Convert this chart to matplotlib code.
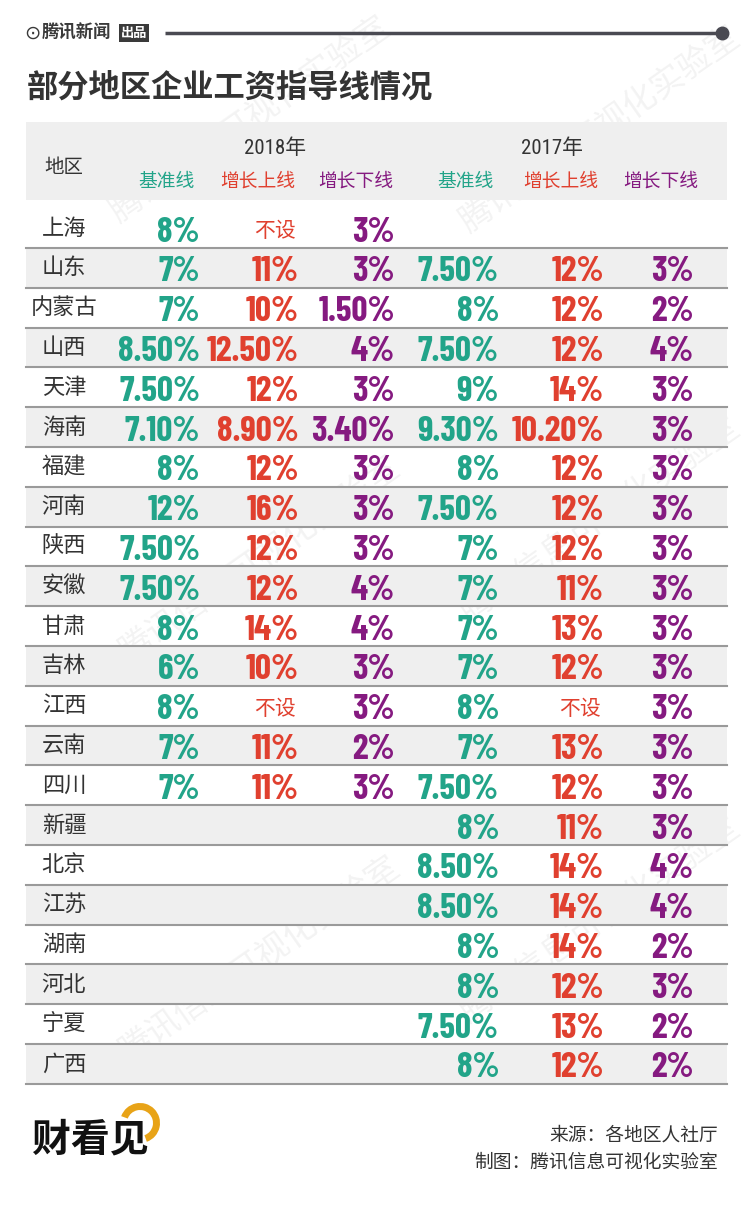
import matplotlib
matplotlib.use('Agg')
import matplotlib.pyplot as plt
from matplotlib.patches import Rectangle, Wedge

plt.rcParams['font.family'] = ['Noto Sans CJK SC', 'DejaVu Sans']

# data
regions = ['上海', '山东', '内蒙古', '山西', '天津', '海南', '福建', '河南', '陕西', '安徽', '甘肃',
           '吉林', '江西', '云南', '四川', '新疆', '北京', '江苏', '湖南', '河北', '宁夏', '广西']
base_2018 = ['8%', '7%', '7%', '8.50%', '7.50%', '7.10%', '8%', '12%', '7.50%', '7.50%', '8%',
             '6%', '8%', '7%', '7%', '', '', '', '', '', '', '']
up_2018 = ['不设', '11%', '10%', '12.50%', '12%', '8.90%', '12%', '16%', '12%', '12%', '14%',
           '10%', '不设', '11%', '11%', '', '', '', '', '', '', '']
low_2018 = ['3%', '3%', '1.50%', '4%', '3%', '3.40%', '3%', '3%', '3%', '4%', '4%',
            '3%', '3%', '2%', '3%', '', '', '', '', '', '', '']
base_2017 = ['', '7.50%', '8%', '7.50%', '9%', '9.30%', '8%', '7.50%', '7%', '7%', '7%',
             '7%', '8%', '7%', '7.50%', '8%', '8.50%', '8.50%', '8%', '8%', '7.50%', '8%']
up_2017 = ['', '12%', '12%', '12%', '14%', '10.20%', '12%', '12%', '12%', '11%', '13%',
           '12%', '不设', '13%', '12%', '11%', '14%', '14%', '14%', '12%', '13%', '12%']
low_2017 = ['', '3%', '2%', '4%', '3%', '3%', '3%', '3%', '3%', '3%', '3%',
            '3%', '3%', '3%', '3%', '3%', '4%', '4%', '2%', '3%', '2%', '2%']
sub_heads = ['基准线', '增长上线', '增长下线']
years = ['2018年', '2017年']

GREEN, RED, PURPLE = '#22a489', '#e0402f', '#851a80'
DARK = '#333333'
NUM_FONT = ['Barlow Condensed', 'Roboto Condensed', 'Oswald', 'DejaVu Sans']

W, H = 752, 1210
fig = plt.figure(figsize=(W / 100, H / 100), dpi=100)
ax = fig.add_axes([0, 0, 1, 1])
ax.set_xlim(0, W); ax.set_ylim(H, 0); ax.axis('off')

# watermark
for (wx, wy) in [(250, 120), (600, 130), (260, 560), (600, 520), (260, 960), (600, 920)]:
    ax.text(wx, wy, '腾讯信息可视化实验室', fontsize=24, color='#000000', alpha=0.05,
            rotation=35, ha='center', va='center', zorder=0)

# top banner
ax.text(24, 33, '⊙', fontsize=14, color='#3a3a3a', ha='left', va='center', family=['DejaVu Sans'])
ax.text(42, 33, '腾讯新闻', fontsize=12.5, color='#3a3a3a', ha='left', va='center',
        weight='bold', style='italic')
ax.text(121, 33, '出品', fontsize=9.5, color='white', ha='left', va='center', weight='bold',
        bbox=dict(boxstyle='square,pad=0.12', fc='#3a3a3a', ec='none'))
ax.plot([165, 722], [33, 33], color='#4a4a52', lw=2.5, solid_capstyle='butt')
ax.plot([722], [33], 'o', color='#4a4a52', ms=9)

ax.text(27, 88, '部分地区企业工资指导线情况', fontsize=22.5, weight='bold', color=DARK,
        ha='left', va='center')

# header
x0, x1 = 26, 727
ax.add_patch(Rectangle((x0, 122), x1 - x0, 78, fc='#efefef', ec='none', zorder=1))
ax.text(64, 168, '地区', fontsize=14, color=DARK, ha='center', va='center', zorder=3)
year_x = [275, 552]
for yx, yr in zip(year_x, years):
    ax.text(yx, 148, yr, fontsize=15, color=DARK, ha='center', va='center', zorder=3,
            family=['Roboto Condensed', 'Noto Sans CJK SC'])
head_x = [[166, 258, 356], [465, 561, 661]]
for hx in head_x:
    for x, t, c in zip(hx, sub_heads, [GREEN, RED, PURPLE]):
        ax.text(x, 181, t, fontsize=13.5, color=c, ha='center', va='center', zorder=3)

# rows
row_top = [200] + [248 + 39.8 * i for i in range(len(regions) - 1)]
row_bot = [248 + 39.8 * i for i in range(len(regions))]
cols = [(base_2018, 200, 180, GREEN), (up_2018, 299, 275, RED), (low_2018, 395, 375, PURPLE),
        (base_2017, 499, 480, GREEN), (up_2017, 604, 580, RED), (low_2017, 694, 675, PURPLE)]
for i, reg in enumerate(regions):
    t, b = row_top[i], row_bot[i]
    yc = (t + b) / 2 if i else 228
    if i % 2 == 1:
        ax.add_patch(Rectangle((x0, t), x1 - x0, b - t, fc='#efefef', ec='none', zorder=1))
    ax.plot([x0, x1], [b, b], color='#9a9a9a', lw=1.5, zorder=2)
    ax.text(64, yc, reg, fontsize=16, color=DARK, ha='center', va='center', zorder=3)
    for vals, xr, xcen, c in cols:
        v = vals[i]
        if not v:
            continue
        if v == '不设':
            ax.text(xcen, yc + 3, v, fontsize=15, color=c, ha='center', va='center', zorder=3)
        else:
            ax.text(xr, yc + 1, v, fontsize=25.5, color=c, ha='right', va='center_baseline',
                    zorder=3, family=NUM_FONT, weight='bold')

# footer logo
ax.text(32, 1140, '财看见', fontsize=28, weight='black', style='italic', color='#111111',
        ha='left', va='center', zorder=3)
ax.add_patch(Wedge((140, 1123), 20, 200, 70, width=7, fc='#e8a317', ec='none', zorder=2))
ax.text(718, 1135, '来源：各地区人社厅', fontsize=13.5, color=DARK, ha='right', va='center')
ax.text(718, 1162, '制图：腾讯信息可视化实验室', fontsize=13.5, color=DARK, ha='right', va='center')

fig.savefig('out.png', dpi=100, facecolor='white')
